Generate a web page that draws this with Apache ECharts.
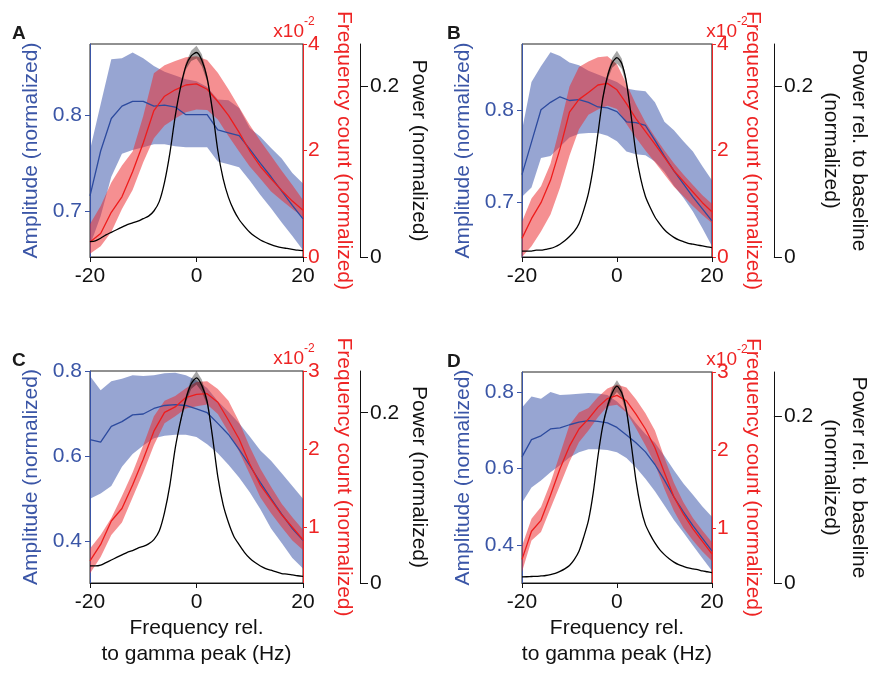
<!DOCTYPE html>
<html><head><meta charset="utf-8">
<script src="https://cdn.jsdelivr.net/npm/echarts@6/dist/echarts.min.js"></script>
<style>html,body{margin:0;padding:0;background:#fff}#c{width:874px;height:673px}</style>
</head><body><div id="c"></div>
<script>
// Frequency relative to gamma peak (Hz)
const freq = [-20,-18,-16,-14,-12,-10,-8,-6,-4,-2,0,2,4,6,8,10,12,14,16,18,20];
const freq1 = [-20,-19,-18,-17,-16,-15,-14,-13,-12,-11,-10,-9,-8,-7,-6,-5,-4,-3,-2,-1,0,1,2,3,4,5,6,7,8,9,10,11,12,13,14,15,16,17,18,19,20];
const peakX = [-3,-2,-1,0,1,2,3];

// Panel A
const ampA   = [0.716,0.763,0.797,0.810,0.815,0.815,0.810,0.811,0.809,0.801,0.801,0.801,0.785,0.782,0.779,0.765,0.750,0.736,0.721,0.706,0.692];
const ampHiA = [0.764,0.812,0.859,0.860,0.866,0.860,0.852,0.846,0.842,0.838,0.836,0.830,0.817,0.816,0.808,0.787,0.778,0.766,0.755,0.740,0.729];
const ampLoA = [0.664,0.695,0.736,0.760,0.764,0.767,0.770,0.770,0.768,0.767,0.767,0.767,0.752,0.749,0.746,0.732,0.717,0.703,0.688,0.674,0.659];
const frqA   = [0.28,0.44,0.84,1.13,1.60,2.14,2.75,3.02,3.14,3.23,3.25,3.15,2.92,2.66,2.34,1.99,1.70,1.47,1.25,1.05,0.88];
const frqHiA = [0.62,0.96,1.40,1.72,1.98,2.65,3.45,3.60,3.68,3.75,3.77,3.70,3.46,3.15,2.81,2.48,2.18,1.90,1.62,1.35,1.07];
const frqLoA = [0.06,0.20,0.47,0.90,1.26,1.78,2.23,2.47,2.60,2.72,2.77,2.76,2.58,2.27,1.98,1.70,1.47,1.23,1.06,0.90,0.75];
const powA   = [0.018,0.019,0.022,0.026,0.029,0.032,0.035,0.038,0.040,0.042,0.045,0.048,0.054,0.065,0.088,0.122,0.165,0.199,0.224,0.236,0.240,0.231,0.210,0.172,0.125,0.092,0.070,0.055,0.044,0.036,0.029,0.024,0.020,0.017,0.0145,0.0125,0.011,0.010,0.009,0.008,0.0075];
const powHiA = [0.201,0.228,0.242,0.248,0.238,0.214,0.174];
const powLoA = [0.197,0.220,0.230,0.233,0.224,0.206,0.170];

// Panel B
const ampB   = [0.730,0.765,0.800,0.808,0.814,0.810,0.811,0.808,0.803,0.802,0.798,0.787,0.786,0.783,0.767,0.750,0.734,0.720,0.706,0.693,0.680];
const ampHiB = [0.778,0.830,0.847,0.862,0.858,0.851,0.848,0.842,0.838,0.834,0.830,0.823,0.821,0.820,0.808,0.787,0.778,0.766,0.755,0.739,0.724];
const ampLoB = [0.706,0.716,0.748,0.750,0.760,0.770,0.774,0.775,0.775,0.772,0.766,0.755,0.752,0.751,0.744,0.733,0.718,0.705,0.690,0.672,0.653];
const frqB   = [0.35,0.72,1.02,1.44,2.03,2.72,2.96,3.09,3.23,3.26,3.14,2.88,2.60,2.36,2.12,1.87,1.62,1.42,1.22,1.02,0.85];
const frqHiB = [0.66,1.10,1.33,1.75,2.45,3.20,3.57,3.67,3.75,3.77,3.62,3.25,2.87,2.53,2.26,2.00,1.76,1.55,1.35,1.16,1.00];
const frqLoB = [0.00,0.20,0.48,0.80,1.30,1.90,2.40,2.67,2.77,2.84,2.78,2.50,2.24,2.00,1.78,1.55,1.32,1.14,0.96,0.79,0.64];
const powB   = [0.007,0.007,0.007,0.008,0.008,0.009,0.010,0.012,0.015,0.019,0.024,0.030,0.039,0.055,0.075,0.105,0.145,0.186,0.212,0.228,0.234,0.227,0.205,0.165,0.122,0.092,0.071,0.058,0.047,0.039,0.032,0.027,0.023,0.020,0.018,0.016,0.015,0.014,0.013,0.012,0.011];
const powHiB = [0.188,0.216,0.234,0.242,0.233,0.209,0.167];
const powLoB = [0.184,0.208,0.222,0.227,0.221,0.201,0.163];

// Panel C
const ampC   = [0.639,0.633,0.670,0.681,0.697,0.699,0.712,0.719,0.721,0.719,0.711,0.702,0.677,0.651,0.616,0.578,0.538,0.500,0.464,0.430,0.402];
const ampHiC = [0.788,0.755,0.776,0.782,0.790,0.788,0.790,0.795,0.796,0.790,0.778,0.760,0.729,0.704,0.677,0.646,0.613,0.589,0.560,0.530,0.500];
const ampLoC = [0.500,0.512,0.530,0.575,0.605,0.625,0.642,0.648,0.650,0.650,0.645,0.628,0.607,0.580,0.550,0.515,0.475,0.430,0.396,0.361,0.336];
const frqC   = [0.57,0.78,1.08,1.24,1.54,1.87,2.23,2.47,2.54,2.66,2.70,2.71,2.60,2.37,2.13,1.81,1.54,1.35,1.16,1.00,0.84];
const frqHiC = [0.73,0.90,1.12,1.40,1.70,2.05,2.42,2.62,2.68,2.78,2.86,2.87,2.77,2.62,2.35,2.03,1.75,1.52,1.30,1.13,0.97];
const frqLoC = [0.41,0.62,0.90,1.06,1.38,1.70,2.05,2.33,2.42,2.52,2.55,2.57,2.45,2.22,1.97,1.68,1.38,1.18,1.00,0.83,0.71];
const powC   = [0.020,0.020,0.021,0.024,0.027,0.030,0.033,0.036,0.038,0.041,0.043,0.046,0.051,0.061,0.083,0.115,0.158,0.190,0.216,0.234,0.241,0.232,0.213,0.172,0.125,0.092,0.071,0.055,0.045,0.036,0.029,0.024,0.020,0.017,0.015,0.013,0.011,0.0105,0.0095,0.0085,0.0078];
const powHiC = [0.192,0.220,0.240,0.249,0.239,0.217,0.174];
const powLoC = [0.188,0.212,0.228,0.233,0.225,0.209,0.170];

// Panel D
const ampD   = [0.630,0.675,0.685,0.703,0.706,0.714,0.721,0.725,0.723,0.719,0.707,0.687,0.667,0.643,0.610,0.569,0.525,0.486,0.450,0.417,0.384];
const ampHiD = [0.759,0.788,0.782,0.800,0.792,0.793,0.795,0.797,0.796,0.792,0.775,0.750,0.718,0.690,0.667,0.632,0.595,0.560,0.531,0.500,0.473];
const ampLoD = [0.510,0.550,0.568,0.590,0.608,0.628,0.642,0.650,0.650,0.648,0.642,0.627,0.602,0.573,0.540,0.503,0.465,0.432,0.398,0.365,0.332];
const frqD   = [0.60,0.96,1.10,1.42,1.76,2.05,2.27,2.40,2.55,2.66,2.70,2.63,2.46,2.27,2.03,1.71,1.40,1.18,0.99,0.83,0.67];
const frqHiD = [0.77,1.12,1.27,1.58,1.95,2.32,2.48,2.54,2.68,2.79,2.84,2.80,2.65,2.47,2.25,1.90,1.58,1.33,1.13,0.97,0.82];
const frqLoD = [0.44,0.84,0.95,1.25,1.55,1.85,2.10,2.25,2.42,2.56,2.58,2.48,2.28,2.06,1.82,1.50,1.22,1.00,0.84,0.70,0.58];
const powD   = [0.0074,0.0075,0.0078,0.008,0.0085,0.009,0.010,0.0115,0.014,0.017,0.021,0.028,0.038,0.055,0.075,0.108,0.152,0.188,0.212,0.228,0.236,0.228,0.207,0.167,0.123,0.091,0.070,0.058,0.048,0.040,0.034,0.029,0.025,0.022,0.020,0.018,0.017,0.016,0.0145,0.0135,0.0125];
const powHiD = [0.190,0.216,0.234,0.243,0.234,0.211,0.169];
const powLoD = [0.186,0.208,0.222,0.229,0.222,0.203,0.165];

// Tick labels
const ampTicksAB = [0.7, 0.8];
const ampTicksCD = [0.4, 0.6, 0.8];
const frqTicksAB = [0, 2, 4];
const frqTicksCD = [1, 2, 3];
const powTicks = [0, 0.2];
const letters = ['A', 'B', 'C', 'D'];

const FONT = '"Liberation Sans", Arial, Helvetica, sans-serif';
const BLUE = '#3a55a6', RED = '#ee2424', BLK = '#111';
const BLUE_LINE = '#2c4a9e', RED_LINE = '#ee1c1c';
const BLUE_BAND = 'rgba(47,75,165,0.5)', RED_BAND = 'rgba(236,40,44,0.52)', GRAY_BAND = 'rgba(0,0,0,0.35)';

const panels = [
  {grid:{left:90,top:44,width:213,height:213}, amp:[ampA,ampHiA,ampLoA], frq:[frqA,frqHiA,frqLoA], pow:[powA,powHiA,powLoA],
   ampRange:[0.652,0.875], ampTicks:ampTicksAB, frqRange:[0,4], frqTicks:frqTicksAB, powRange:[0,0.25], powOffset:57,
   powName:'Power (normalized)', powGap:45, xName:null},
  {grid:{left:522,top:44,width:214,height:213}, amp:[ampB,ampHiB,ampLoB], frq:[frqB,frqHiB,frqLoB], pow:[powB,powHiB,powLoB],
   ampRange:[0.641,0.871], ampTicks:ampTicksAB, frqRange:[0,4], frqTicks:frqTicksAB, powRange:[0,0.25], powOffset:62,
   powName:'Power rel. to baseline\n(normalized)', powGap:22, xName:null},
  {grid:{left:90,top:371,width:213,height:212}, amp:[ampC,ampHiC,ampLoC], frq:[frqC,frqHiC,frqLoC], pow:[powC,powHiC,powLoC],
   ampRange:[0.302,0.80], ampTicks:ampTicksCD, frqRange:[0.287,3], frqTicks:frqTicksCD, powRange:[0,0.249], powOffset:57,
   powName:'Power (normalized)', powGap:45, xName:'Frequency rel.\nto gamma peak (Hz)'},
  {grid:{left:522,top:372,width:214,height:211}, amp:[ampD,ampHiD,ampLoD], frq:[frqD,frqHiD,frqLoD], pow:[powD,powHiD,powLoD],
   ampRange:[0.300,0.852], ampTicks:ampTicksCD, frqRange:[0.297,3], frqTicks:frqTicksCD, powRange:[0,0.253], powOffset:62,
   powName:'Power rel. to baseline\n(normalized)', powGap:22, xName:'Frequency rel.\nto gamma peak (Hz)'}
];

function band(xi, yi, xs, lo, hi, color) {
  return {
    type:'custom', xAxisIndex:xi, yAxisIndex:yi, clip:true, silent:true,
    data:[[xs[0], lo[0]]],
    renderItem:(params, api) => {
      const pts = [];
      for (let i = 0; i < xs.length; i++) pts.push(api.coord([xs[i], hi[i]]));
      for (let i = xs.length - 1; i >= 0; i--) pts.push(api.coord([xs[i], lo[i]]));
      return {type:'polygon', shape:{points:pts}, style:{fill:color}};
    }
  };
}
function line(xi, yi, xs, ys, color, smooth) {
  return {
    type:'line', xAxisIndex:xi, yAxisIndex:yi, data:xs.map((x,i)=>[x, ys[i]]),
    showSymbol:false, symbol:'none', smooth:smooth||false, silent:true, clip:true,
    lineStyle:{color:color, width:1.3}
  };
}

const grid = [], xAxis = [], yAxis = [], series = [], graphic = [];
const fmt = v => String(Math.round(v*10)/10);

panels.forEach((p, i) => {
  grid.push(Object.assign({show:true, borderColor:'#222', borderWidth:1, backgroundColor:'transparent'}, p.grid));
  xAxis.push({
    gridIndex:i, type:'value', min:-20, max:20, interval:20,
    axisLine:{onZero:false, lineStyle:{color:BLK, width:1}},
    axisTick:{length:5, lineStyle:{color:BLK}},
    axisLabel:{color:BLK, fontSize:21, fontFamily:FONT, margin:9},
    splitLine:{show:false},
    name:p.xName||'', nameLocation:'middle', nameGap:32,
    nameTextStyle:{color:BLK, fontSize:21, fontFamily:FONT, lineHeight:26}
  });
  yAxis.push({
    gridIndex:i, type:'value', position:'left', min:p.ampRange[0], max:p.ampRange[1],
    axisLine:{show:true, onZero:false, lineStyle:{color:BLUE, width:1}},
    axisTick:{show:true, length:5, customValues:p.ampTicks, lineStyle:{color:BLUE}},
    axisLabel:{color:BLUE, fontSize:21, fontFamily:FONT, margin:8, customValues:p.ampTicks, formatter:fmt},
    splitLine:{show:false},
    name:'Amplitude (normalized)', nameLocation:'middle', nameGap:48, nameRotate:90,
    nameTextStyle:{color:BLUE, fontSize:21, fontFamily:FONT}
  });
  yAxis.push({
    gridIndex:i, type:'value', position:'right', min:p.frqRange[0], max:p.frqRange[1],
    axisLine:{show:true, onZero:false, lineStyle:{color:RED, width:1}},
    axisTick:{show:true, length:4, customValues:p.frqTicks, lineStyle:{color:RED}},
    axisLabel:{color:RED, fontSize:21, fontFamily:FONT, margin:5, customValues:p.frqTicks, formatter:v=>String(Math.round(v))},
    splitLine:{show:false},
    name:'Frequency count (normalized)', nameLocation:'middle', nameGap:30, nameRotate:-90,
    nameTextStyle:{color:RED, fontSize:21, fontFamily:FONT}
  });
  yAxis.push({
    gridIndex:i, type:'value', position:'right', offset:p.powOffset, min:p.powRange[0], max:p.powRange[1],
    axisLine:{show:true, onZero:false, lineStyle:{color:BLK, width:1}},
    axisTick:{show:true, length:8, customValues:powTicks, lineStyle:{color:BLK}},
    axisLabel:{color:BLK, fontSize:21, fontFamily:FONT, margin:10, customValues:powTicks, formatter:fmt},
    splitLine:{show:false},
    name:p.powName, nameLocation:'middle', nameGap:p.powGap, nameRotate:-90,
    nameTextStyle:{color:BLK, fontSize:21, fontFamily:FONT, lineHeight:28, align:'center'}
  });
  const yb = 3*i, yr = 3*i+1, yk = 3*i+2;
  series.push(band(i, yb, freq, p.amp[2], p.amp[1], BLUE_BAND));
  series.push(line(i, yb, freq, p.amp[0], BLUE_LINE));
  series.push(band(i, yr, freq, p.frq[2], p.frq[1], RED_BAND));
  series.push(line(i, yr, freq, p.frq[0], RED_LINE));
  series.push(band(i, yk, peakX, p.pow[2], p.pow[1], GRAY_BAND));
  series.push(line(i, yk, freq1, p.pow[0], '#000', 0.25));

  const g = p.grid;
  graphic.push({type:'text', left:(i%2===0?12:447), top:g.top-20, style:{text:letters[i], font:'bold 19px '+FONT, fill:'#1a1a1a'}});
  const rx = g.left + g.width;
  graphic.push({type:'text', x:rx+1, y:g.top-12, style:{text:'x10', font:'19px '+FONT, fill:RED, textAlign:'right', textVerticalAlign:'middle'}});
  graphic.push({type:'text', x:rx+1, y:g.top-22, style:{text:'-2', font:'12px '+FONT, fill:RED, textAlign:'left', textVerticalAlign:'middle'}});
});

const chart = echarts.init(document.getElementById('c'), null, {renderer:'canvas'});
chart.setOption({animation:false, backgroundColor:'#fff', grid, xAxis, yAxis, series, graphic});
</script>
</body></html>
